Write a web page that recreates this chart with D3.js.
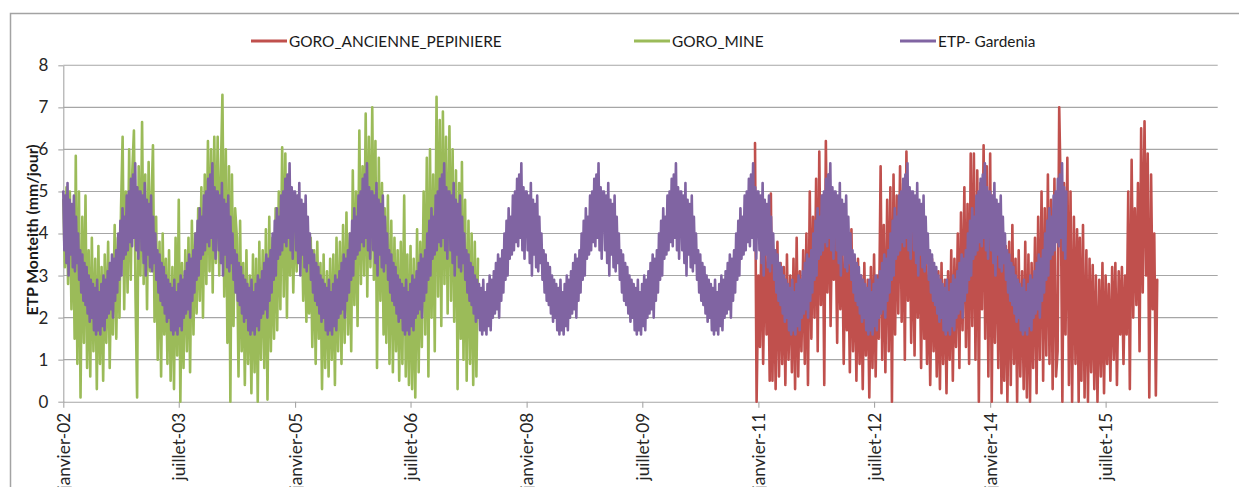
<!DOCTYPE html>
<html>
<head>
<meta charset="utf-8">
<script src="https://cdn.jsdelivr.net/npm/d3@7"></script>
<style>
  html, body { margin: 0; padding: 0; background: #fff; }
  svg { display: block; }
</style>
</head>
<body>
<svg id="chart" width="1239" height="487"></svg>
<script>
// Daily reference evapotranspiration (Penman-Monteith), mm/day.

// Series names and colours
const seriesNames = ["GORO_ANCIENNE_PEPINIERE", "GORO_MINE", "ETP- Gardenia"];
const seriesColors = ["#C0504D", "#9BBB59", "#8064A2"];

// ETP Gardenia: one climatological year at 5-day steps, repeated each year 2002-2014
const gardeniaYears = [2002, 2003, 2004, 2005, 2006, 2007, 2008, 2009, 2010, 2011, 2012, 2013, 2014];
const gardeniaAnnual = [
  5.0, 3.6, 4.9, 3.3, 5.2, 3.0, 4.8,
  3.5, 4.7, 3.2, 4.9, 3.1, 4.4, 3.3,
  4.0, 2.9, 3.6, 2.6, 3.5, 2.4, 3.3,
  2.3, 3.2, 2.1, 3.0, 1.9, 2.9, 2.0,
  2.8, 1.7, 2.7, 1.6, 2.9, 1.7, 2.6,
  1.6, 2.8, 1.8, 3.0, 1.7, 2.9, 2.0,
  3.1, 2.1, 3.3, 2.2, 3.5, 2.0, 3.4,
  2.4, 3.6, 2.6, 4.0, 2.9, 4.3, 3.0,
  4.6, 3.4, 4.4, 3.5, 4.9, 3.6, 5.0,
  3.8, 5.3, 3.7, 5.4, 3.9, 5.67, 3.6,
  5.1, 3.4, 5.0
];

// GORO_MINE: four readings per month, from January 2002
const goroMineStart = [2002, 0];
const goroMine = [
  // 2002
  4.8, 3.2, 5.1, 2.8,   5.0, 2.2, 4.6, 1.5,   5.85, 0.9, 5.0, 0.1,  4.4, 1.4, 4.9, 0.8,
  3.6, 0.6, 3.9, 1.2,   3.4, 0.3, 3.7, 0.9,   3.2, 0.5, 3.5, 1.4,   3.8, 0.8, 3.3, 1.6,
  4.2, 1.5, 3.9, 2.0,   4.6, 6.3, 2.2, 5.0,   2.6, 6.0, 2.9, 5.5,   6.45, 2.5, 0.1, 5.6,
  // 2003
  3.0, 6.65, 2.8, 5.4,  2.2, 5.7, 3.1, 5.0,   6.1, 1.9, 4.4, 1.0,   3.8, 0.6, 4.0, 1.6,
  3.4, 0.9, 3.6, 0.5,   3.2, 0.3, 3.9, 1.1,   4.8, 0.0, 3.3, 0.8,   3.6, 1.2, 3.9, 0.7,
  4.3, 1.6, 4.0, 2.1,   4.6, 2.4, 5.1, 2.0,   5.4, 2.8, 6.2, 3.1,   6.0, 2.6, 6.3, 3.3,
  // 2004
  6.3, 3.0, 5.5, 7.3,   2.5, 6.0, 1.4, 5.6,   0.0, 5.4, 1.8, 4.6,   3.9, 0.6, 4.3, 1.2,
  3.3, 0.4, 3.6, 0.9,   3.0, 0.2, 3.5, 0.7,   3.4, 0.0, 3.8, 1.0,   3.6, 0.8, 4.1, 0.05,
  4.4, 1.2, 3.9, 1.5,   4.6, 1.7, 5.0, 2.2,   6.05, 2.5, 5.9, 2.0,  5.3, 3.0, 4.9, 2.6,
  // 2005
  4.7, 3.1, 4.9, 3.4,   4.5, 2.4, 4.3, 1.9,   4.0, 2.1, 3.9, 1.3,   3.6, 0.9, 3.8, 1.5,
  3.3, 0.3, 3.5, 0.8,   3.1, 0.6, 3.4, 1.0,   3.5, 0.4, 3.9, 1.2,   3.8, 0.9, 4.2, 1.4,
  4.5, 1.6, 4.0, 1.2,   5.5, 2.3, 5.0, 1.8,   6.45, 2.8, 5.6, 3.0,  6.85, 2.5, 6.3, 3.2,
  // 2006
  7.0, 2.9, 6.2, 0.8,   5.8, 2.4, 5.2, 1.6,   4.6, 1.4, 4.9, 0.9,   4.3, 0.7, 3.9, 1.2,
  3.6, 0.5, 3.8, 0.9,   4.9, 0.6, 3.5, 0.4,   3.7, 0.3, 3.4, 0.1,   4.1, 0.7, 3.8, 1.3,
  5.0, 1.6, 5.8, 0.6,   6.0, 2.0, 5.4, 1.2,   7.25, 2.5, 6.7, 1.8,  6.9, 2.8, 6.3, 2.1,
  // 2007
  6.55, 2.4, 6.0, 1.9,  5.5, 0.3, 5.2, 1.5,   5.7, 1.0, 4.8, 0.5,   4.3, 0.9, 4.0, 0.4,
  3.8, 0.6, 3.4
];

// GORO_ANCIENNE_PEPINIERE: four readings per month, from December 2010
const pepiniereStart = [2010, 11];
const pepiniere = [
  // 2010
  null, null, 6.15, 0.0,
  // 2011
  3.0, 1.3, 4.4, 0.9,   3.9, 1.6, 3.5, 0.5,   4.95, 0.5, 3.6, 0.3,  3.8, 0.6, 3.3, 0.9,
  3.2, 0.4, 3.5, 1.0,   3.0, 0.7, 3.4, 0.3,   3.9, 0.6, 3.1, 1.2,   3.6, 0.9, 4.0, 0.4,
  5.0, 1.5, 4.4, 2.0,   5.3, 1.2, 5.95, 2.3,  4.9, 0.4, 6.2, 2.6,   5.4, 1.8, 4.6, 2.9,
  // 2012
  4.3, 1.4, 4.8, 2.2,   4.0, 0.9, 3.6, 1.7,   3.5, 0.7, 4.1, 1.2,   3.2, 0.5, 3.4, 0.9,
  3.0, 0.3, 3.3, 1.1,   2.9, 0.1, 3.2, 0.8,   3.5, 0.6, 3.0, 1.5,   5.6, 1.0, 4.2, 0.7,
  4.8, 1.2, 5.1, 0.0,   5.4, 1.6, 4.9, 2.1,   5.6, 1.9, 5.2, 1.0,   5.95, 2.4, 4.7, 1.4,
  // 2013
  4.2, 1.1, 4.5, 2.0,   3.9, 0.8, 4.1, 1.5,   3.6, 0.9, 3.3, 0.4,   3.4, 1.2, 3.0, 0.6,
  3.1, 0.3, 3.3, 0.9,   2.9, 0.2, 3.1, 1.0,   3.6, 0.5, 3.4, 1.3,   4.0, 0.8, 4.5, 1.7,
  5.1, 1.3, 4.7, 0.9,   5.9, 1.8, 5.9, 1.0,   5.5, 0.0, 5.2, 2.2,   6.1, 1.5, 5.6, 0.6,
  // 2014
  5.9, 0.0, 4.9, 1.4,   4.3, 0.8, 4.6, 0.2,   4.1, 0.5, 3.7, 0.0,   3.8, 0.4, 4.2, 0.9,
  3.4, 0.0, 3.6, 0.6,   3.1, 0.3, 3.8, 0.1,   3.5, 0.0, 3.3, 0.8,   3.9, 0.2, 4.4, 1.0,
  5.0, 0.5, 4.6, 1.1,   5.4, 0.9, 4.8, 0.3,   5.3, 0.6, 1.2, 7.0,   4.9, 0.0, 5.2, 1.6,
  // 2015
  5.8, 0.4, 5.0, 0.0,   4.4, 0.9, 4.1, 0.0,   3.9, 0.5, 4.2, 0.1,   3.6, 0.0, 3.4, 0.7,
  3.25, 0.3, 3.0, 0.0,  2.9, 0.6, 3.3, 0.2,   3.0, 0.9, 2.8, 0.5,   3.2, 1.0, 3.3, 0.4,
  3.1, 1.6, 3.2, 0.9,   3.0, 1.6, 5.0, 0.3,   5.75, 2.0, 4.6, 2.3,  5.2, 1.2, 6.5, 2.6,
  // 2016
  6.67, 3.0, 5.9, 0.1,  5.4, 2.2, 4.0, 0.15,  2.9
];

// Axis settings
const yTicks = [0, 1, 2, 3, 4, 5, 6, 7, 8];
const tickDates = [[2002, 0], [2003, 6], [2005, 0], [2006, 6], [2008, 0], [2009, 6], [2011, 0], [2012, 6], [2014, 0], [2015, 6]];
const tickLabels = ["janvier-02", "juillet-03", "janvier-05", "juillet-06", "janvier-08", "juillet-09", "janvier-11", "juillet-12", "janvier-14", "juillet-15"];
const yTitle = "ETP Monteith (mm/jour)";

// ---- build point lists ----
const DAY = 864e5;
function monthly(start, values) {
  return values.map((v, i) => ({
    date: new Date(Date.UTC(start[0], start[1] + Math.floor(i / 4), 1) + (i % 4) * 7.5 * DAY),
    v
  }));
}
const gardenia = [];
gardeniaYears.forEach(yr => {
  gardeniaAnnual.forEach((v, i) => gardenia.push({ date: new Date(Date.UTC(yr, 0, 1) + i * 5 * DAY), v }));
});
const seriesData = [monthly(pepiniereStart, pepiniere), monthly(goroMineStart, goroMine), gardenia];

// ---- layout ----
const svg = d3.select("#chart");
const FONT = "Lato, 'Liberation Sans', sans-serif";
const plot = { left: 63.3, right: 1217.7, top: 65.3, bottom: 401.7 };

const x = d3.scaleUtc()
  .domain([new Date(Date.UTC(2002, 0, 1)), new Date(Date.UTC(2016, 11, 12))])
  .range([plot.left, plot.right]);
const y = d3.scaleLinear().domain([0, 8]).range([plot.bottom, plot.top]);

// chart area frame
svg.append("rect").attr("x", 0).attr("y", 0).attr("width", 1239).attr("height", 487).attr("fill", "#fff");
svg.append("path")
  .attr("d", `M10.5,487 V13.5 H1239`)
  .attr("fill", "none").attr("stroke", "#a3a3a3").attr("stroke-width", 1.5);

// horizontal gridlines
svg.append("g").selectAll("line").data(yTicks.filter(t => t > 0)).join("line")
  .attr("x1", plot.left).attr("x2", plot.right)
  .attr("y1", d => y(d)).attr("y2", d => y(d))
  .attr("stroke", "#a6a6a6").attr("stroke-width", 1.1);

// y axis
const gy = svg.append("g").attr("transform", `translate(${plot.left},0)`)
  .call(d3.axisLeft(y).tickValues(yTicks).tickSize(5).tickSizeOuter(0).tickPadding(10));
gy.select(".domain").attr("stroke", "#a6a6a6").attr("stroke-width", 1.1);
gy.selectAll(".tick line").attr("stroke", "#a6a6a6").attr("stroke-width", 1.1);
gy.selectAll(".tick text").attr("font-family", FONT).attr("font-size", 17).attr("fill", "#262626");

// x axis
const gx = svg.append("g").attr("transform", `translate(0,${plot.bottom})`)
  .call(d3.axisBottom(x)
    .tickValues(tickDates.map(d => new Date(Date.UTC(d[0], d[1], 1))))
    .tickFormat((d, i) => tickLabels[i])
    .tickSize(6).tickSizeOuter(0));
gx.select(".domain").attr("stroke", "#a6a6a6").attr("stroke-width", 1.1);
gx.selectAll(".tick line").attr("stroke", "#a6a6a6").attr("stroke-width", 1.1);
gx.selectAll(".tick text")
  .attr("font-family", FONT).attr("font-size", 17.3).attr("fill", "#262626")
  .attr("transform", "rotate(-90)")
  .attr("text-anchor", "end")
  .attr("x", -11).attr("y", 0).attr("dy", "0.35em");

// series (drawn in legend order; the last one ends on top)
const line = d3.line()
  .defined(d => d.v != null)
  .x(d => x(d.date))
  .y(d => y(d.v));
svg.append("g").selectAll("path").data(seriesData).join("path")
  .attr("d", line)
  .attr("fill", "none")
  .attr("stroke", (d, i) => seriesColors[i])
  .attr("stroke-width", 2.6)
  .attr("stroke-linejoin", "round")
  .attr("stroke-linecap", "round");

// y axis title
svg.append("text")
  .attr("transform", `translate(31,230) rotate(-90)`)
  .attr("text-anchor", "middle").attr("dominant-baseline", "central")
  .attr("font-family", FONT).attr("font-size", 15.8).attr("font-weight", "bold").attr("fill", "#1a1a1a")
  .text(yTitle);

// legend
const legendX = [251, 634, 900];
const lg = svg.append("g").selectAll("g").data(seriesNames).join("g")
  .attr("transform", (d, i) => `translate(${legendX[i]},41)`);
lg.append("line").attr("x1", 0).attr("x2", 36).attr("y1", 0).attr("y2", 0)
  .attr("stroke", (d, i) => seriesColors[i]).attr("stroke-width", 3.2);
lg.append("text").attr("x", 38).attr("y", 0).attr("dominant-baseline", "central")
  .attr("font-family", FONT).attr("font-size", 15.4).attr("fill", "#1a1a1a")
  .text(d => d);
</script>
</body>
</html>
